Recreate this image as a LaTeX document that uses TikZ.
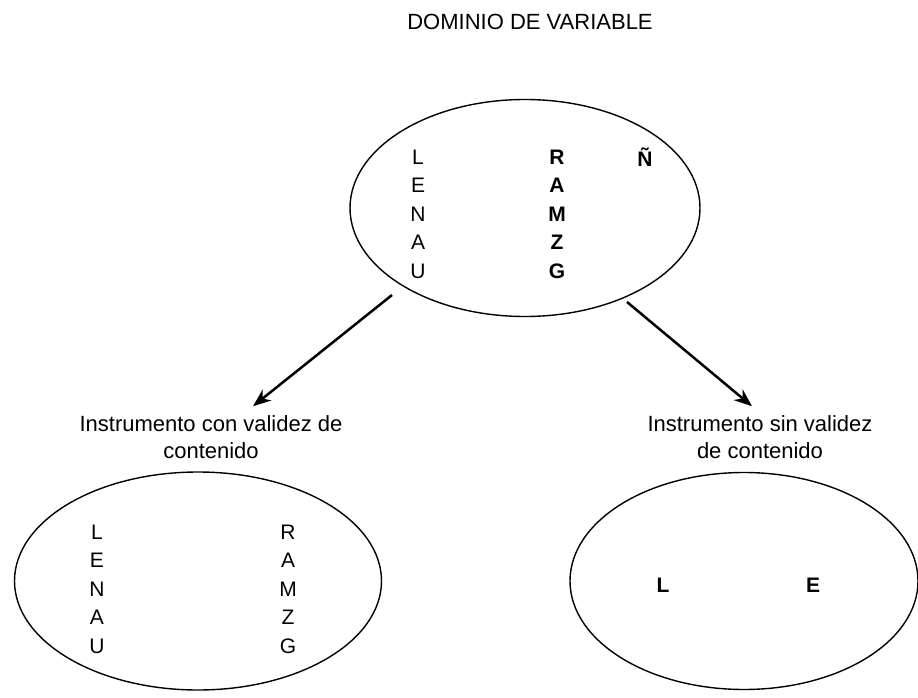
\documentclass[tikz,border=0pt]{standalone}
\usepackage{fontspec}
\setmainfont{Liberation Sans}
\usetikzlibrary{arrows.meta,shapes.geometric}
\tikzset{
  setoval/.style={
    draw, ellipse, line width=1.4pt, inner sep=0pt},
  lettercol/.style={
    align=center, inner sep=0pt, font=\fontsize{21}{28.5}\selectfont},
  lettercol_bold/.style={
    lettercol, font=\fontsize{21}{28.5}\selectfont\bfseries},
  branchlabel/.style={
    align=center, inner sep=0pt, font=\fontsize{22}{27}\selectfont},
  brancharrow/.style={
    -{Stealth[length=18pt,width=14pt]}, line width=2.5pt},
}

\begin{document}
\begin{tikzpicture}[x=1pt, y=-1pt]
  \useasboundingbox (0,0) rectangle (918,698);
  \node[branchlabel] (title) at (530,22) {DOMINIO DE VARIABLE};
  % upper set
  \node[setoval, minimum width=350pt, minimum height=217pt] (dom) at (525,208) {};
  \node[lettercol]      (domL) at (418,214) {L\\E\\N\\A\\U};
  \node[lettercol_bold] (domR) at (557,214) {R\\A\\M\\Z\\G};
  \node[lettercol_bold] (domN) at (645,157) {Ñ};
  % branches
  \node[branchlabel] (conlabel) at (211,437) {Instrumento con validez de\\contenido};
  \node[branchlabel] (sinlabel) at (760,437) {Instrumento sin validez\\de contenido};
  \draw[brancharrow] ([shift={(-133,87)}]dom.center) -- ([xshift=42pt,yshift=9pt]conlabel.north);
  \draw[brancharrow] ([shift={(102,94)}]dom.center) -- ([xshift=-8pt,yshift=9pt]sinlabel.north);
  % lower sets
  \node[setoval, minimum width=367pt, minimum height=218pt] (con) at (198,581) {};
  \node[lettercol] (conL) at (97,589) {L\\E\\N\\A\\U};
  \node[lettercol] (conR) at (288,589) {R\\A\\M\\Z\\G};
  \node[setoval, minimum width=348pt, minimum height=217pt] (sin) at (744,581) {};
  \node[lettercol_bold] (sinL) at (663,585) {L};
  \node[lettercol_bold] (sinE) at (813,585) {E};
\end{tikzpicture}
\end{document}
